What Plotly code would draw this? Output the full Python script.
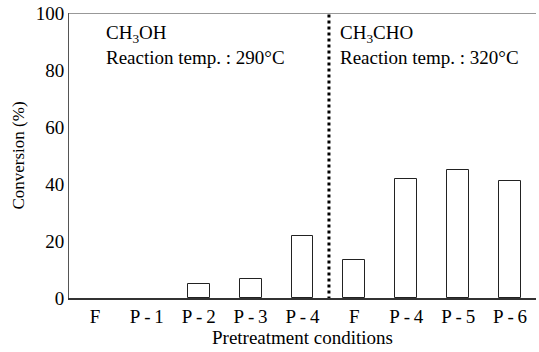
import plotly.graph_objects as go

categories = ["F", "P-1", "P-2", "P-3", "P-4", "F", "P-4", "P-5", "P-6"]
conversion = [0, 0, 5, 6.7, 21.7, 13.4, 41.9, 45, 41]
y_ticks = [0, 20, 40, 60, 80, 100]

x_pos = list(range(len(categories)))
tick_text = [c.replace("-", "\u2009-\u2009") for c in categories]
font = dict(family="Liberation Serif, Times New Roman, serif", color="black")

fig = go.Figure()
fig.add_trace(go.Bar(
    x=x_pos, y=conversion, width=0.42,
    marker=dict(color="white",
                line=dict(color="#222", width=[1 if v > 0 else 0 for v in conversion])),
    showlegend=False,
))

fig.add_shape(type="line", x0=4.51, x1=4.51, y0=-0.5, y1=100, xref="x", yref="y",
              line=dict(color="black", width=3, dash="dot"))
fig.add_shape(type="line", x0=-0.5, x1=8.5, y0=100, y1=100, xref="x", yref="y",
              line=dict(color="#333", width=1.2))

fig.add_annotation(x=0.17, y=97.5, xref="x", yref="y", xanchor="left", yanchor="top",
                   text="CH<sub>3</sub>OH<br>Reaction temp. : 290°C", showarrow=False,
                   align="left", font=dict(size=19, **font))
fig.add_annotation(x=4.68, y=97.5, xref="x", yref="y", xanchor="left", yanchor="top",
                   text="CH<sub>3</sub>CHO<br>Reaction temp. : 320°C", showarrow=False,
                   align="left", font=dict(size=19, **font))

fig.update_layout(
    width=539, height=352,
    margin=dict(l=69, r=3, t=10, b=54),
    plot_bgcolor="white", paper_bgcolor="white",
    font=dict(size=18, **font),
    bargap=0,
)
fig.update_xaxes(range=[-0.5, 8.5], tickvals=x_pos, ticktext=tick_text,
                 showline=True, linecolor="#333", linewidth=1.5, showgrid=False,
                 ticks="", zeroline=False,
                 title=dict(text="Pretreatment conditions", font=dict(size=19, **font), standoff=4),
                 tickfont=dict(size=19, **font))
fig.update_yaxes(range=[0, 100], tickvals=y_ticks, showline=True, linecolor="#555",
                 linewidth=1, showgrid=False, ticks="", zeroline=False,
                 ticklabeloverflow="allow",
                 title=dict(text="Conversion (%)", font=dict(size=17, **font), standoff=6),
                 tickfont=dict(size=19, **font))

fig.write_html("out.html")
